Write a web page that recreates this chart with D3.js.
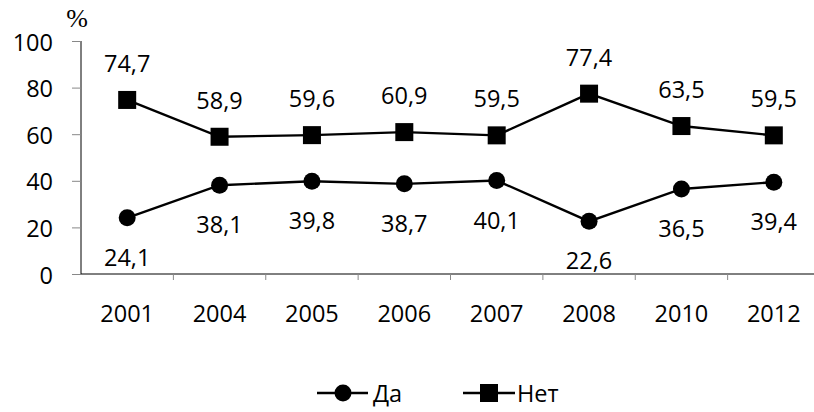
<!DOCTYPE html>
<html>
<head>
<meta charset="utf-8">
<script src="https://cdn.jsdelivr.net/npm/d3@7"></script>
<style>
  body { margin: 0; background: #fff; }
  text { font-family: "Open Sans", sans-serif; fill: #000; }
</style>
</head>
<body>
<div id="chart"></div>
<script>
// data
let years = ["2001", "2004", "2005", "2006", "2007", "2008", "2010", "2012"];
let da = [24.1, 38.1, 39.8, 38.7, 40.1, 22.6, 36.5, 39.4];
let net = [74.7, 58.9, 59.6, 60.9, 59.5, 77.4, 63.5, 59.5];
let yTicks = [0, 20, 40, 60, 80, 100];

let width = 814, height = 412;
let fontSize = "23.5px";

let svg = d3.select("#chart")
    .append("svg")
    .attr("width", width)
    .attr("height", height);

let x = d3.scaleBand()
    .domain(years)
    .range([81, 820]);

let y = d3.scaleLinear()
    .domain([0, 100])
    .range([274, 41]);

// y axis
let yAxis = svg.append("g")
    .attr("transform", "translate(81,0)")
    .call(d3.axisLeft(y).tickValues(yTicks).tickSize(9).tickPadding(19));
yAxis.select(".domain").attr("stroke", "#000").attr("d", `M0,${y(100)}V${y(0)}`);
yAxis.selectAll(".tick line").attr("stroke", "#888");
yAxis.selectAll(".tick text")
    .attr("dy", null)
    .attr("dominant-baseline", "central")
    .style("font-size", fontSize);

// x axis with ticks at the band edges
let xAxis = svg.append("g")
    .attr("transform", `translate(0,${y(0)})`);
xAxis.append("line")
    .attr("x1", 81).attr("x2", 814)
    .attr("stroke", "#000");
xAxis.selectAll(".edge")
    .data(years.slice(1).map(function(d) { return x(d); }))
    .enter()
    .append("line")
    .attr("x1", function(d) { return d; })
    .attr("x2", function(d) { return d; })
    .attr("y1", 0).attr("y2", 6)
    .attr("stroke", "#888");
xAxis.selectAll("text")
    .data(years)
    .enter()
    .append("text")
    .attr("x", function(d) { return x(d) + x.bandwidth() / 2; })
    .attr("y", 48)
    .style("text-anchor", "middle")
    .style("font-size", fontSize)
    .text(function(d) { return d; });

// % label
svg.append("text")
    .attr("x", 77).attr("y", 27)
    .style("text-anchor", "middle")
    .style("font-family", "Liberation Serif, serif")
    .style("font-size", "26px")
    .text("%");

let cx = function(d, i) { return x(years[i]) + x.bandwidth() / 2; };
let line = d3.line()
    .x(function(d, i) { return cx(d, i); })
    .y(function(d) { return y(d); });

// Да series
svg.append("path")
    .datum(da)
    .attr("fill", "none")
    .attr("stroke", "#000")
    .attr("stroke-width", 2.4)
    .attr("d", line);
svg.selectAll(".da")
    .data(da)
    .enter()
    .append("circle")
    .attr("cx", cx)
    .attr("cy", function(d) { return y(d); })
    .attr("r", 8.5)
    .attr("fill", "#000");
svg.selectAll(".daLabel")
    .data(da)
    .enter()
    .append("text")
    .attr("x", cx)
    .attr("y", function(d) { return y(d) + 48; })
    .style("text-anchor", "middle")
    .style("font-size", fontSize)
    .text(function(d) { return String(d).replace(".", ","); });

// Нет series
svg.append("path")
    .datum(net)
    .attr("fill", "none")
    .attr("stroke", "#000")
    .attr("stroke-width", 2.4)
    .attr("d", line);
svg.selectAll(".net")
    .data(net)
    .enter()
    .append("rect")
    .attr("x", function(d, i) { return cx(d, i) - 9; })
    .attr("y", function(d) { return y(d) - 9; })
    .attr("width", 18)
    .attr("height", 18)
    .attr("fill", "#000");
svg.selectAll(".netLabel")
    .data(net)
    .enter()
    .append("text")
    .attr("x", cx)
    .attr("y", function(d) { return y(d) - 28; })
    .style("text-anchor", "middle")
    .style("font-size", fontSize)
    .text(function(d) { return String(d).replace(".", ","); });

// legend
let legend = svg.append("g").attr("transform", "translate(0,393)");
legend.append("line").attr("x1", 317).attr("x2", 368).attr("stroke", "#000").attr("stroke-width", 2.4);
legend.append("circle").attr("cx", 343).attr("cy", 0).attr("r", 8.5).attr("fill", "#000");
legend.append("text").attr("x", 373).attr("y", 9).style("font-size", fontSize).text("Да");
legend.append("line").attr("x1", 463).attr("x2", 515).attr("stroke", "#000").attr("stroke-width", 2.4);
legend.append("rect").attr("x", 480).attr("y", -9).attr("width", 18).attr("height", 18).attr("fill", "#000");
legend.append("text").attr("x", 517).attr("y", 9).style("font-size", fontSize).text("Нет");
</script>
</body>
</html>
